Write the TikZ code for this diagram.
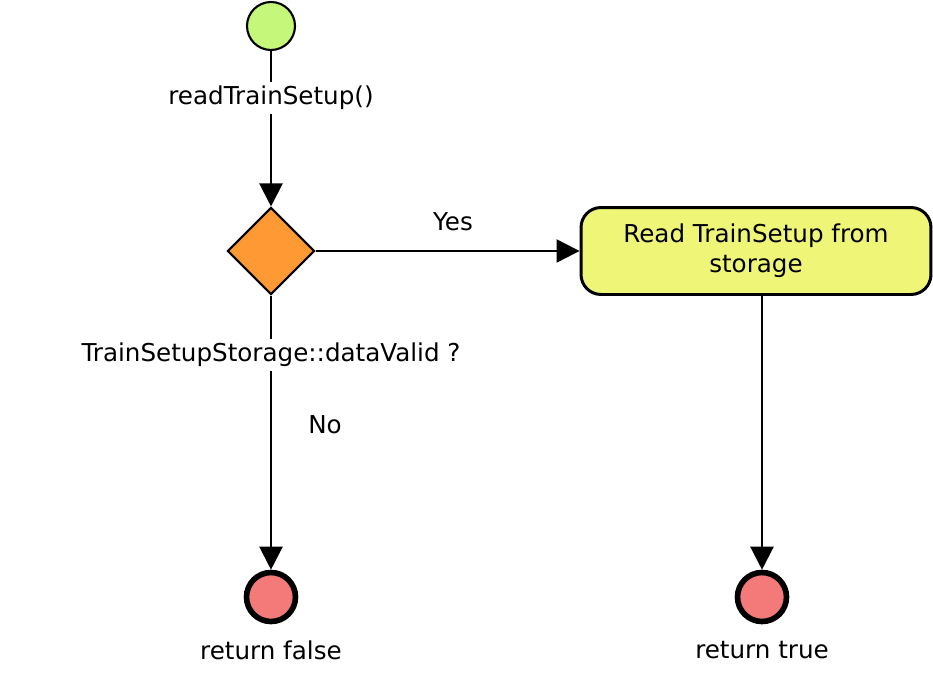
\documentclass[tikz,border=0pt]{standalone}
\usepackage{fontspec}
\setmainfont{DejaVu Sans}
\usepackage{tikz}
\usetikzlibrary{shapes.geometric, arrows.meta, positioning}

\definecolor{startgreen}{HTML}{C5F77A}
\definecolor{decorange}{HTML}{FF9933}
\definecolor{actyellow}{HTML}{EEF577}
\definecolor{endred}{HTML}{F47A7A}

\begin{document}
\begin{tikzpicture}[
    x=0.02cm, y=-0.02cm,
    font=\fontsize{14}{17}\selectfont,
    lbl/.style={inner sep=2pt},
    initial/.style={circle, draw, line width=1.2pt, fill=startgreen, minimum size=0.96cm, inner sep=0},
    final/.style={circle, draw, line width=3.2pt, fill=endred, minimum size=0.98cm, inner sep=0},
    decision/.style={diamond, draw, line width=1.2pt, fill=decorange, minimum width=1.74cm, minimum height=1.74cm, inner sep=0},
    action/.style={draw, rounded corners=0.4cm, line width=1.7pt, fill=actyellow, minimum width=7cm, minimum height=1.74cm, align=center},
    flow/.style={line width=1.3pt, -{Triangle[length=0.46cm, width=0.46cm]}},
    link/.style={line width=1.3pt}
]
    \useasboundingbox (0,0) rectangle (933,676);

    \node[initial] (start) at (271,26) {};
    \node[lbl] (lblread) at (271,98) {readTrainSetup()};
    \node[decision] (dec) at (271,251) {};
    \node[lbl] (lblcond) at (271,355) {TrainSetupStorage::dataValid ?};
    \node[lbl] (lblno) at (325,425) {No};
    \node[lbl] (lblyes) at (453,222) {Yes};
    \node[action] (act) at (756,251) {Read TrainSetup from\\storage};
    \node[final] (endf) at (271,597) {};
    \node[lbl] (lblfalse) at (271,650) {return false};
    \node[final] (endt) at (762,597) {};
    \node[lbl] (lbltrue) at (762,650) {return true};

    \draw[link] (start) -- (lblread);
    \draw[flow] (lblread) -- (dec);
    \draw[link] (dec) -- (lblcond);
    \draw[flow] (lblcond) -- (endf);
    \draw[flow] (dec) -- (act);
    \draw[flow] (act.south -| endt) -- (endt);
\end{tikzpicture}
\end{document}
